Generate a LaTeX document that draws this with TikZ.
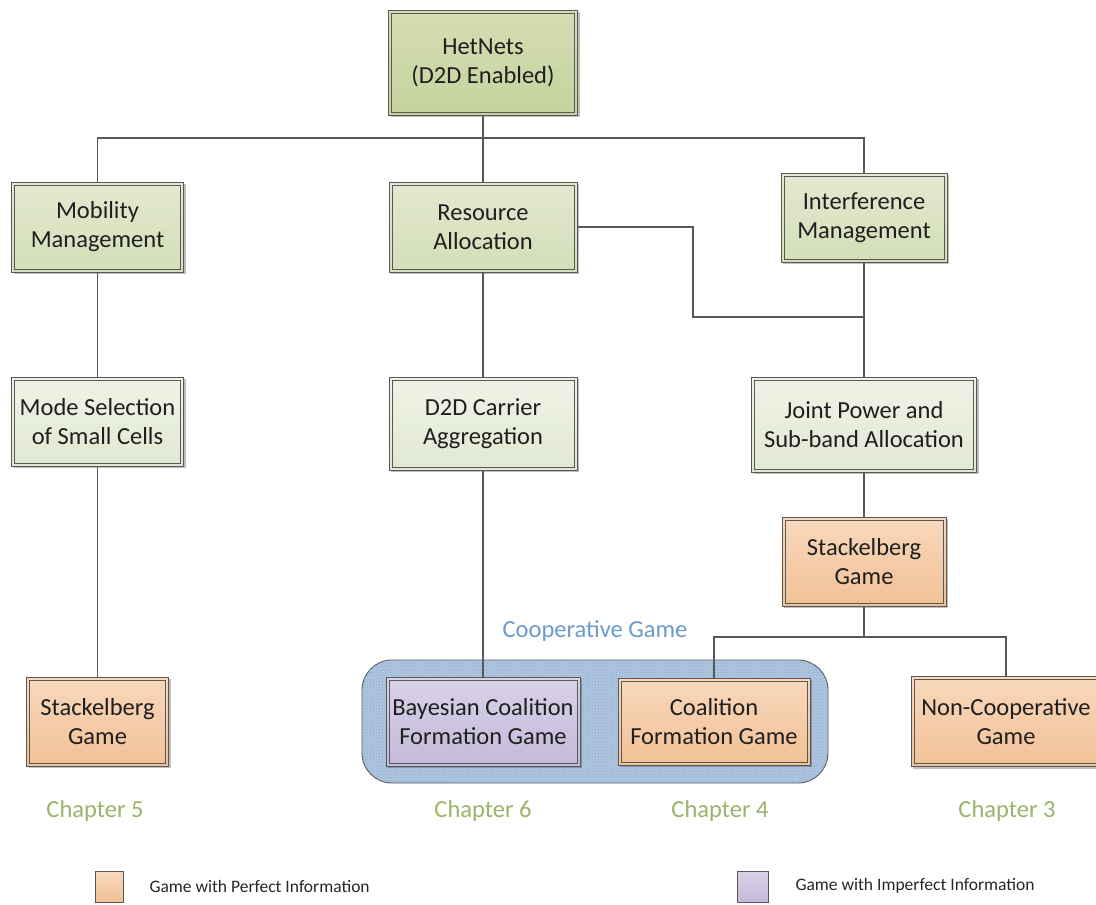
\documentclass[tikz,border=0pt]{standalone}
\usepackage{fontspec}
\setmainfont{Carlito}
\usetikzlibrary{shadows,patterns}

\definecolor{linec}{HTML}{585858}
\definecolor{chapc}{HTML}{9BB36A}
\definecolor{coopc}{HTML}{6A9BCC}
\definecolor{coopfill}{HTML}{AFC6E0}
\definecolor{coopdots}{HTML}{8CA8C8}
\definecolor{greenAtop}{HTML}{D4DDB3}
\definecolor{greenAbot}{HTML}{C6D29E}
\definecolor{greenBtop}{HTML}{E3E9CF}
\definecolor{greenBbot}{HTML}{D4DEB8}
\definecolor{greenCtop}{HTML}{EFF3E6}
\definecolor{greenCbot}{HTML}{E1E8D2}
\definecolor{orangetop}{HTML}{F8D8BC}
\definecolor{orangebot}{HTML}{F1C196}
\definecolor{violettop}{HTML}{D8D2E8}
\definecolor{violetbot}{HTML}{C3BAD8}

\tikzset{
  box/.style={draw=linec, line width=0.9pt, align=center, inner sep=0pt,
    font=\fontsize{24.5}{29}\selectfont, text=black!88,
    drop shadow={shadow xshift=2pt, shadow yshift=-2pt, opacity=0.25, fill=black}},
  lvla/.style={box, top color=greenAtop, bottom color=greenAbot},
  lvlb/.style={box, top color=greenBtop, bottom color=greenBbot},
  lvlc/.style={box, top color=greenCtop, bottom color=greenCbot},
  perf/.style={box, top color=orangetop, bottom color=orangebot},
  imperf/.style={box, top color=violettop, bottom color=violetbot},
  inner/.style={draw=linec, line width=0.8pt},
  link/.style={draw=linec, line width=1.1pt},
  chapter/.style={text=chapc, font=\fontsize{24.5}{29}\selectfont},
  legend/.style={font=\fontsize{17.5}{20}\selectfont, text=black!85, anchor=west},
}

\begin{document}
\begin{tikzpicture}[x=1pt, y=-1pt]
\useasboundingbox (0,0) rectangle (1096,905);
\clip (0,0) rectangle (1096,905);

% cooperative game region
\node (coop) [draw=linec, line width=0.9pt, rounded corners=30pt,
  minimum width=466pt, minimum height=123pt, inner sep=0pt,
  fill=coopfill, postaction={pattern=crosshatch dots, pattern color=coopdots}]
  at (595,721.5) {};
\node (cooplabel) [text=coopc, font=\fontsize{24.5}{29}\selectfont] at (595,631) {Cooperative Game};

% tree nodes
\node (het)   [lvla, minimum width=189pt, minimum height=105pt] at (483,62.5)   {HetNets\\(D2D Enabled)};
\node (mob)   [lvlb, minimum width=172pt, minimum height=90pt]  at (97.5,227)   {Mobility\\Management};
\node (res)   [lvlb, minimum width=188pt, minimum height=90pt]  at (483,227)    {Resource\\Allocation};
\node (int)   [lvlb, minimum width=166pt, minimum height=89pt]  at (864,217.5)  {Interference\\Management};
\node (mode)  [lvlc, minimum width=172pt, minimum height=89pt]  at (97.5,421.5) {Mode Selection\\of Small Cells};
\node (d2d)   [lvlc, minimum width=188pt, minimum height=93pt]  at (483,423.5)  {D2D Carrier\\Aggregation};
\node (joint) [lvlc, minimum width=225pt, minimum height=95pt]  at (864,424.5)  {Joint Power and\\Sub-band Allocation};
\node (stR)   [perf, minimum width=164pt, minimum height=89pt]  at (864,561.5)  {Stackelberg\\Game};
\node (stL)   [perf, minimum width=142pt, minimum height=89pt]  at (97.5,721.5) {Stackelberg\\Game};
\node (bay)   [imperf, minimum width=194pt, minimum height=89pt] at (483,721.5) {Bayesian Coalition\\Formation Game};
\node (coal)  [perf, minimum width=192pt, minimum height=87pt]  at (714,721.5)  {Coalition\\Formation Game};
\node (ncoop) [perf, minimum width=190pt, minimum height=90pt]  at (1006,721.5) {Non-Cooperative\\Game};

% inner frame of each double border
\foreach \n in {het,mob,res,int,mode,d2d,joint,stR,stL,bay,coal,ncoop}
  \draw[inner] ([shift={(3.5pt,-3.5pt)}]\n.north west) rectangle ([shift={(-3.5pt,3.5pt)}]\n.south east);

% connectors
\coordinate (j1) at (483,138);
\coordinate (bend) at (693,317);
\coordinate (j2) at (864,637);
\draw[link] (het.south) -- (res.north);
\draw[link] (mob.north) |- (j1);
\draw[link] (int.north) |- (j1);
\draw[link] (mob.south) -- (mode.north);
\draw[link] (mode.south) -- (stL.north);
\draw[link] (res.south) -- (d2d.north);
\draw[link] (d2d.south) -- (bay.north);
\draw[link] (res.east) -| (bend) -- (bend -| int.south);
\draw[link] (int.south) -- (joint.north);
\draw[link] (joint.south) -- (stR.north);
\draw[link] (stR.south) -- (j2);
\draw[link] (coal.north) |- (j2);
\draw[link] (ncoop.north) |- (j2);

% chapter labels
\node (ch5) [chapter] at (95,811)   {Chapter 5};
\node (ch6) [chapter] at (483,811)  {Chapter 6};
\node (ch4) [chapter] at (720,811)  {Chapter 4};
\node (ch3) [chapter] at (1007,811) {Chapter 3};

% legend
\node (keyp) [draw=linec, line width=0.8pt, top color=orangetop, bottom color=orangebot,
  minimum width=28pt, minimum height=31pt, inner sep=0pt] at (109,886.5) {};
\node (keypt) [legend] at (146,886) {Game with Perfect Information};
\node (keyi) [draw=linec, line width=0.8pt, top color=violettop, bottom color=violetbot,
  minimum width=31pt, minimum height=31pt, inner sep=0pt] at (752.5,886.5) {};
\node (keyit) [legend] at (792,886) {Game with Imperfect Information};
\end{tikzpicture}
\end{document}
